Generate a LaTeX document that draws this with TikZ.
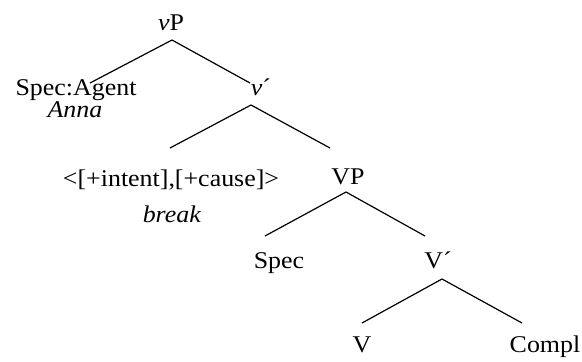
\documentclass[tikz,border=0pt]{standalone}
\usepackage{fontspec}
\setmainfont[FakeStretch=1.08]{Liberation Serif}
\usetikzlibrary{positioning}

\tikzset{
  lbl/.style={anchor=base, inner sep=0pt},
  branch/.style={line width=1.2pt}
}

\begin{document}
\begin{tikzpicture}[x=1pt, y=-1pt, font=\fontsize{24}{29}\selectfont]

  \useasboundingbox (0,0) rectangle (582,362);

  \node[lbl] (vP)    at (171,30)  {\textit{v}P};
  \node[lbl] (agent) at (76,95)   {Spec:Agent};
  \node[lbl] (anna)  at (75,117)  {\textit{Anna}};
  \node[lbl] (vbar)  at (261,95)  {\textit{v}´};
  \node[lbl] (feat)  at (171,186) {<[+intent],[+cause]>};
  \node[lbl] (brk)   at (172,222) {\textit{break}};
  \node[lbl] (VP)    at (348,184) {VP};
  \node[lbl] (spec)  at (279,268) {Spec};
  \node[lbl] (Vbar)  at (438,268) {V´};
  \node[lbl] (V)     at (362,352) {V};
  \node[lbl] (compl) at (545,352) {Compl};

  \coordinate (vP-top)   at (172,40);
  \coordinate (vP-l)     at (90,83);
  \coordinate (vP-r)     at (250,83);
  \coordinate (vbar-top) at (251,105);
  \coordinate (vbar-l)   at (170,148);
  \coordinate (vbar-r)   at (330,148);
  \coordinate (VP-top)   at (346,192);
  \coordinate (VP-l)     at (265,236);
  \coordinate (VP-r)     at (425,236);
  \coordinate (Vbar-top) at (442,279);
  \coordinate (Vbar-l)   at (362,323);
  \coordinate (Vbar-r)   at (522,323);

  \draw[branch] (vP-top) -- (vP-l);
  \draw[branch] (vP-top) -- (vP-r);
  \draw[branch] (vbar-top) -- (vbar-l);
  \draw[branch] (vbar-top) -- (vbar-r);
  \draw[branch] (VP-top) -- (VP-l);
  \draw[branch] (VP-top) -- (VP-r);
  \draw[branch] (Vbar-top) -- (Vbar-l);
  \draw[branch] (Vbar-top) -- (Vbar-r);

\end{tikzpicture}
\end{document}
